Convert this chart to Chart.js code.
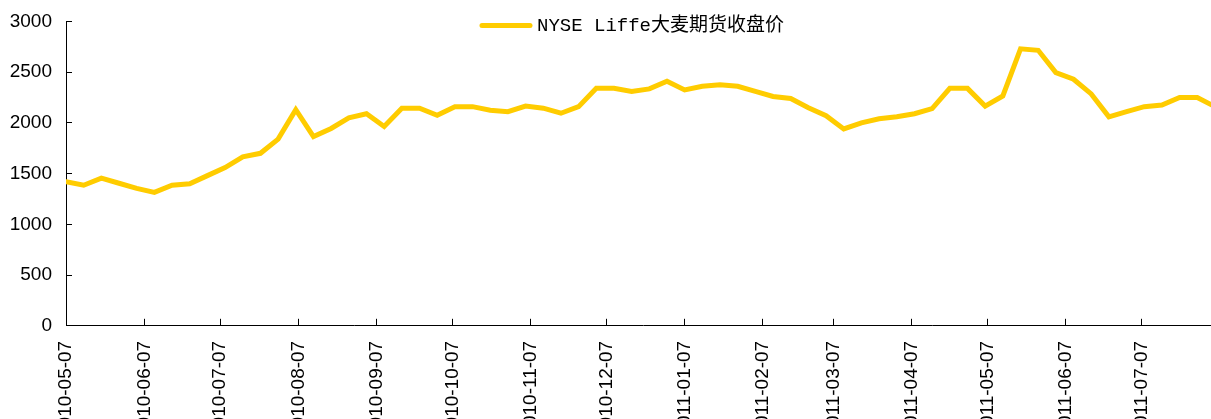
<!DOCTYPE html>
<html>
<head>
<meta charset="utf-8">
<script src="https://cdn.jsdelivr.net/npm/chart.js@4"></script>
<style>
  html, body { margin: 0; padding: 0; background: #fff; overflow: hidden; }
  #wrap { width: 1220px; height: 473px; margin-top: -10px; }
</style>
</head>
<body>
<div id="wrap"><canvas id="barleyChart"></canvas></div>
<script>
// --- Data ---
const seriesName = 'NYSE Liffe大麦期货收盘价';

// weekly closing dates (Fridays)
const dates = [
    '2010-05-07', '2010-05-14', '2010-05-21', '2010-05-28', '2010-06-04', '2010-06-11', '2010-06-18', '2010-06-25',
    '2010-07-02', '2010-07-09', '2010-07-16', '2010-07-23', '2010-07-30', '2010-08-06', '2010-08-13', '2010-08-20',
    '2010-08-27', '2010-09-03', '2010-09-10', '2010-09-17', '2010-09-24', '2010-10-01', '2010-10-08', '2010-10-15',
    '2010-10-22', '2010-10-29', '2010-11-05', '2010-11-12', '2010-11-19', '2010-11-26', '2010-12-03', '2010-12-10',
    '2010-12-17', '2010-12-24', '2010-12-31', '2011-01-07', '2011-01-14', '2011-01-21', '2011-01-28', '2011-02-04',
    '2011-02-11', '2011-02-18', '2011-02-25', '2011-03-04', '2011-03-11', '2011-03-18', '2011-03-25', '2011-04-01',
    '2011-04-08', '2011-04-15', '2011-04-22', '2011-04-29', '2011-05-06', '2011-05-13', '2011-05-20', '2011-05-27',
    '2011-06-03', '2011-06-10', '2011-06-17', '2011-06-24', '2011-07-01', '2011-07-08', '2011-07-15', '2011-07-22',
    '2011-07-29', '2011-08-05'
];

const prices = [
    1420, 1385, 1455, 1405, 1355, 1315, 1385, 1400, 1480, 1560,
    1665, 1700, 1840, 2130, 1865, 1945, 2050, 2090, 1965, 2145,
    2145, 2075, 2160, 2160, 2125, 2110, 2165, 2145, 2095, 2160,
    2340, 2340, 2310, 2335, 2410, 2325, 2360, 2375, 2360, 2310,
    2260, 2240, 2150, 2070, 1940, 2000, 2040, 2060, 2090, 2140,
    2340, 2340, 2165, 2265, 2730, 2715, 2495, 2430, 2285, 2060,
    2110, 2160, 2175, 2250, 2250, 2160
];

// x axis tick labels (monthly)
const tickDates = [
    '2010-05-07', '2010-06-07', '2010-07-07', '2010-08-07', '2010-09-07', '2010-10-07', '2010-11-07', '2010-12-07',
    '2011-01-07', '2011-02-07', '2011-03-07', '2011-04-07', '2011-05-07', '2011-06-07', '2011-07-07'
];

const yTicks = [0, 500, 1000, 1500, 2000, 2500, 3000];

// --- Helpers: dates -> day offsets from first date ---
const DAY = 86400000;
const t0 = Date.parse(dates[0] + 'T00:00:00Z');
const dayOf = (d) => Math.round((Date.parse(d + 'T00:00:00Z') - t0) / DAY);

const points = dates.map((d, i) => ({ x: dayOf(d), y: prices[i] }));
const tickDays = tickDates.map(dayOf);

Chart.defaults.font.family = "'Liberation Sans', Arial, sans-serif";
Chart.defaults.color = '#000';

// legend drawn inside the plot, centred over the chart area
const innerLegend = {
    id: 'innerLegend',
    afterDraw(chart) {
        const { ctx, chartArea } = chart;
        const ds = chart.data.datasets[0];
        ctx.save();
        ctx.font = "19px 'Liberation Mono', 'Noto Sans CJK SC', monospace";
        const textW = ctx.measureText(ds.label).width;
        const lineW = 48, gap = 7;
        const total = lineW + gap + textW;
        const x0 = (chartArea.left + chartArea.right) / 2 - total / 2 - 10;
        const y = chartArea.top + 4;
        ctx.strokeStyle = ds.borderColor;
        ctx.lineWidth = 5;
        ctx.lineCap = 'round';
        ctx.beginPath();
        ctx.moveTo(x0, y);
        ctx.lineTo(x0 + lineW, y);
        ctx.stroke();
        ctx.fillStyle = '#000';
        ctx.textBaseline = 'middle';
        ctx.fillText(ds.label, x0 + lineW + gap, y + 1);
        ctx.restore();
    }
};

const ctx = document.getElementById('barleyChart').getContext('2d');
new Chart(ctx, {
    type: 'line',
    data: {
        datasets: [{
            label: seriesName,
            data: points,
            borderColor: '#FFCC00',
            backgroundColor: '#FFCC00',
            borderWidth: 5,
            borderCapStyle: 'round',
            pointRadius: 0,
            tension: 0,
            fill: false
        }]
    },
    options: {
        responsive: true,
        maintainAspectRatio: false,
        animation: false,
        layout: { padding: { top: 1, left: 0, right: 0, bottom: 3 } },
        plugins: {
            tooltip: { enabled: false },
            legend: { display: false }
        },
        scales: {
            x: {
                type: 'linear',
                min: 0,
                max: 457,
                afterBuildTicks: (scale) => { scale.ticks = tickDays.map(v => ({ value: v })); },
                grid: { drawOnChartArea: false, drawTicks: true, tickLength: -7, color: '#000' },
                border: { color: '#000', width: 1 },
                ticks: {
                    autoSkip: false,
                    maxRotation: 90,
                    minRotation: 90,
                    padding: 22,
                    font: { size: 19 },
                    callback: (v) => tickDates[tickDays.indexOf(v)] || ''
                }
            },
            y: {
                min: 0,
                max: 3000,
                afterBuildTicks: (scale) => { scale.ticks = yTicks.map(v => ({ value: v })); },
                afterFit: (scale) => { scale.width = 66; },
                grid: { drawOnChartArea: false, drawTicks: true, tickLength: -6, color: '#000' },
                border: { color: '#000', width: 1 },
                ticks: { padding: 20, font: { size: 19 }, callback: (v) => String(v) }
            }
        }
    },
    plugins: [innerLegend]
});
</script>
</body>
</html>
